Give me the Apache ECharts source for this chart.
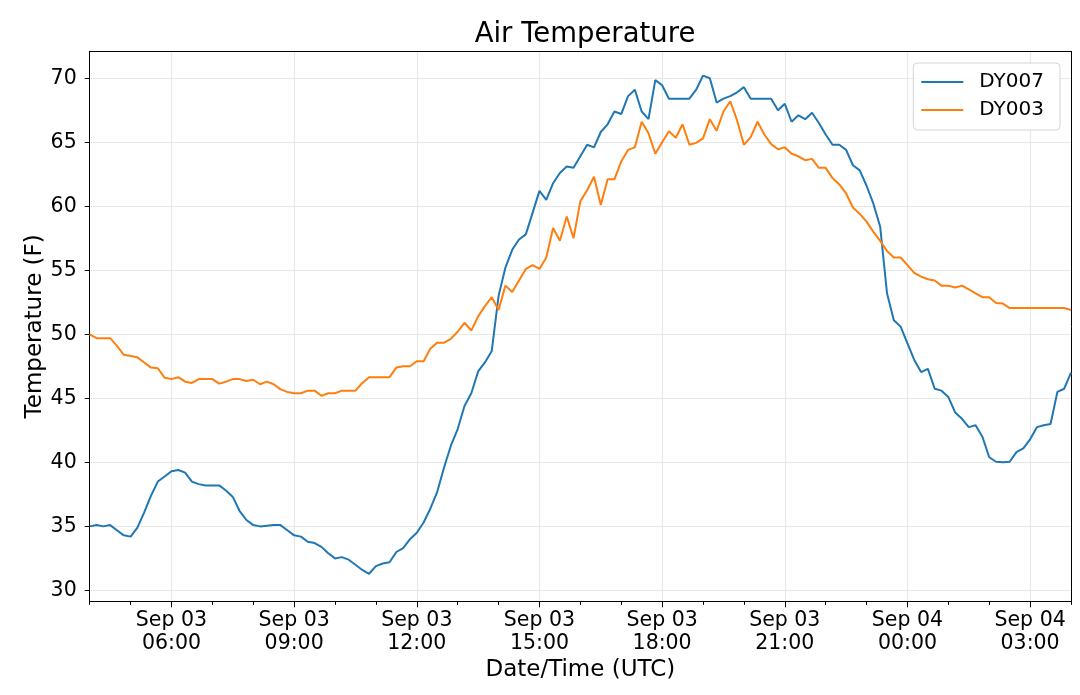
<!DOCTYPE html>
<html>
<head>
  <meta charset="UTF-8">
  <title>Air Temperature</title>
  <script src="https://cdn.jsdelivr.net/npm/echarts@6/dist/echarts.min.js"></script>
  <style>
    html, body { margin: 0; padding: 0; background: #fff; }
    #main { width: 1080px; height: 695px; }
  </style>
</head>
<body>
<div id="main"></div>
<script>
  // samples every 10 min, Sep 03 04:00 -> Sep 04 04:00 (UTC)
  let startHour = 4;
  let stepMin = 10;

  let dy007 = [
    35.0, 35.1, 35.0, 35.1, 34.7, 34.3, 34.2, 34.9, 36.1, 37.4,
    38.5, 38.9, 39.3, 39.4, 39.2, 38.5, 38.3, 38.2, 38.2, 38.2,
    37.8, 37.3, 36.2, 35.5, 35.1, 35.0, 35.05, 35.1, 35.1, 34.7,
    34.3, 34.2, 33.8, 33.7, 33.4, 32.9, 32.5, 32.6, 32.4, 32.0,
    31.6, 31.3, 31.9, 32.1, 32.2, 33.0, 33.3, 34.0, 34.5, 35.3,
    36.4, 37.7, 39.6, 41.3, 42.6, 44.4, 45.4, 47.1, 47.8, 48.7,
    53.0, 55.2, 56.6, 57.4, 57.8, 59.5, 61.2, 60.5, 61.8, 62.6,
    63.1, 63.0, 63.9, 64.8, 64.6, 65.8, 66.4, 67.4, 67.2, 68.6,
    69.1, 67.4, 66.8, 69.85, 69.45, 68.4, 68.4, 68.4, 68.4, 69.1,
    70.2, 70.0, 68.1, 68.4, 68.6, 68.9, 69.3, 68.4, 68.4, 68.4,
    68.4, 67.5, 68.0, 66.6, 67.1, 66.8, 67.3, 66.5, 65.6, 64.8,
    64.8, 64.4, 63.2, 62.8, 61.6, 60.2, 58.4, 53.2, 51.1, 50.6,
    49.3, 48.0, 47.05, 47.3, 45.75, 45.6, 45.1, 43.9, 43.4, 42.75,
    42.9, 42.0, 40.4, 40.05, 40.0, 40.05, 40.8, 41.1, 41.8, 42.75,
    42.9, 43.0, 45.5, 45.75, 47.0
  ];

  let dy003 = [
    50.0, 49.7, 49.7, 49.7, 49.1, 48.4, 48.3, 48.2, 47.8, 47.4,
    47.35, 46.6, 46.5, 46.65, 46.3, 46.2, 46.5, 46.5, 46.5, 46.15,
    46.3, 46.5, 46.5, 46.35, 46.45, 46.1, 46.3, 46.1, 45.7, 45.5,
    45.4, 45.4, 45.6, 45.6, 45.2, 45.4, 45.4, 45.6, 45.6, 45.6,
    46.2, 46.65, 46.65, 46.65, 46.65, 47.4, 47.5, 47.5, 47.9, 47.9,
    48.9, 49.35, 49.35, 49.65, 50.2, 50.9, 50.3, 51.4, 52.2, 52.9,
    51.9, 53.8, 53.3, 54.2, 55.1, 55.4, 55.1, 56.0, 58.3, 57.3,
    59.2, 57.5, 60.4, 61.25, 62.3, 60.1, 62.1, 62.1, 63.5, 64.4,
    64.6, 66.6, 65.7, 64.1, 65.0, 65.85, 65.35, 66.4, 64.8, 64.95,
    65.3, 66.8, 65.9, 67.4, 68.2, 66.7, 64.8, 65.4, 66.6, 65.6,
    64.85, 64.45, 64.6, 64.1, 63.9, 63.6, 63.7, 63.0, 63.0, 62.2,
    61.7, 61.0, 59.9, 59.4, 58.8, 58.0, 57.3, 56.5, 56.0, 56.0,
    55.4, 54.8, 54.5, 54.3, 54.2, 53.8, 53.8, 53.65, 53.8, 53.5,
    53.2, 52.9, 52.9, 52.45, 52.4, 52.05, 52.05, 52.05, 52.05, 52.05,
    52.05, 52.05, 52.05, 52.05, 51.9
  ];

  let yMin = 29.15;
  let yMax = 72.1;

  function pad(n) { return (n < 10 ? '0' : '') + n; }

  let times = [];
  for (let i = 0; i < dy007.length; i++) {
    let m = startHour * 60 + i * stepMin;
    let day = 3 + Math.floor(m / 1440);
    let hh = Math.floor((m % 1440) / 60);
    times.push('Sep ' + pad(day) + '\n' + pad(hh) + ':' + pad(m % 60));
  }

  // major ticks every 3h (06:00, 09:00, ...), minor every hour
  let majorTick = function (i) { return i % 18 === 12; };
  let minorTick = function (i) { return i % 6 === 0; };

  let font = 'DejaVu Sans';
  let myChart = echarts.init(document.getElementById('main'), null, {renderer: 'canvas'});
  let option = {
    backgroundColor: '#fff',
    animation: false,
    textStyle: {fontFamily: font},
    title: {
      text: 'Air Temperature',
      left: 580,
      top: 16,
      textAlign: 'center',
      textStyle: {fontFamily: font, fontSize: 27.5, fontWeight: 'normal', color: '#000'}
    },
    legend: {
      orient: 'vertical',
      right: 20,
      top: 63,
      padding: [9, 16, 10, 8],
      icon: 'rect',
      itemWidth: 42,
      itemHeight: 2,
      itemGap: 8,
      borderColor: '#d5d5d5',
      borderWidth: 1,
      borderRadius: 4,
      backgroundColor: 'rgba(255,255,255,0.85)',
      textStyle: {fontFamily: font, fontSize: 20, color: '#000', padding: [0, 0, 0, 11]},
      data: ['DY007', 'DY003']
    },
    grid: {
      left: 89.7,
      right: 9,
      top: 51.3,
      bottom: 93.7
    },
    xAxis: [{
      type: 'category',
      data: times,
      boundaryGap: false,
      name: 'Date/Time (UTC)',
      nameLocation: 'middle',
      nameGap: 57,
      nameMoveOverlap: false,
      nameTextStyle: {fontFamily: font, fontSize: 23, color: '#000'},
      axisLine: {lineStyle: {color: '#000', width: 1}},
      axisTick: {show: true, interval: majorTick, length: 6, lineStyle: {color: '#000'}},
      axisLabel: {
        interval: majorTick,
        margin: 8,
        fontFamily: font,
        fontSize: 20.5,
        lineHeight: 23,
        color: '#000'
      },
      splitLine: {show: true, interval: majorTick, lineStyle: {color: '#e8e8e8', width: 1.2}}
    }, {
      type: 'category',
      data: times,
      boundaryGap: false,
      position: 'bottom',
      axisLine: {show: false},
      axisTick: {show: true, interval: minorTick, length: 3.5, lineStyle: {color: '#000'}},
      axisLabel: {show: false},
      splitLine: {show: false}
    }, {
      // top spine
      type: 'category',
      data: times,
      boundaryGap: false,
      position: 'top',
      axisLine: {show: true, lineStyle: {color: '#000', width: 1}},
      axisTick: {show: false},
      axisLabel: {show: false},
      splitLine: {show: false}
    }],
    yAxis: [{
      type: 'value',
      min: yMin,
      max: yMax,
      minInterval: 5,
      maxInterval: 5,
      name: 'Temperature (F)',
      nameLocation: 'middle',
      nameGap: 43,
      nameMoveOverlap: false,
      nameTextStyle: {fontFamily: font, fontSize: 23, color: '#000'},
      axisLine: {show: true, lineStyle: {color: '#000', width: 1}},
      axisTick: {show: true, length: 5, lineStyle: {color: '#000'}},
      axisLabel: {
        margin: 13,
        fontFamily: font,
        fontSize: 20.5,
        color: '#000',
        showMinLabel: false,
        showMaxLabel: false,
        formatter: function (v) { return v % 5 === 0 ? String(v) : ''; }
      },
      splitLine: {show: true, lineStyle: {color: '#e8e8e8', width: 1.2}}
    }, {
      // right spine
      type: 'value',
      min: yMin,
      max: yMax,
      position: 'right',
      axisLine: {show: true, lineStyle: {color: '#000', width: 1}},
      axisTick: {show: false},
      axisLabel: {show: false},
      splitLine: {show: false}
    }],
    series: [{
      name: 'DY007',
      type: 'line',
      data: dy007,
      symbol: 'none',
      lineStyle: {color: '#1f77b4', width: 2},
      itemStyle: {color: '#1f77b4'}
    }, {
      name: 'DY003',
      type: 'line',
      data: dy003,
      symbol: 'none',
      lineStyle: {color: '#ff7f0e', width: 2},
      itemStyle: {color: '#ff7f0e'}
    }]
  };
  myChart.setOption(option);

  window.addEventListener("resize", function () {
    myChart.resize();
  });
</script>
</body>
</html>
